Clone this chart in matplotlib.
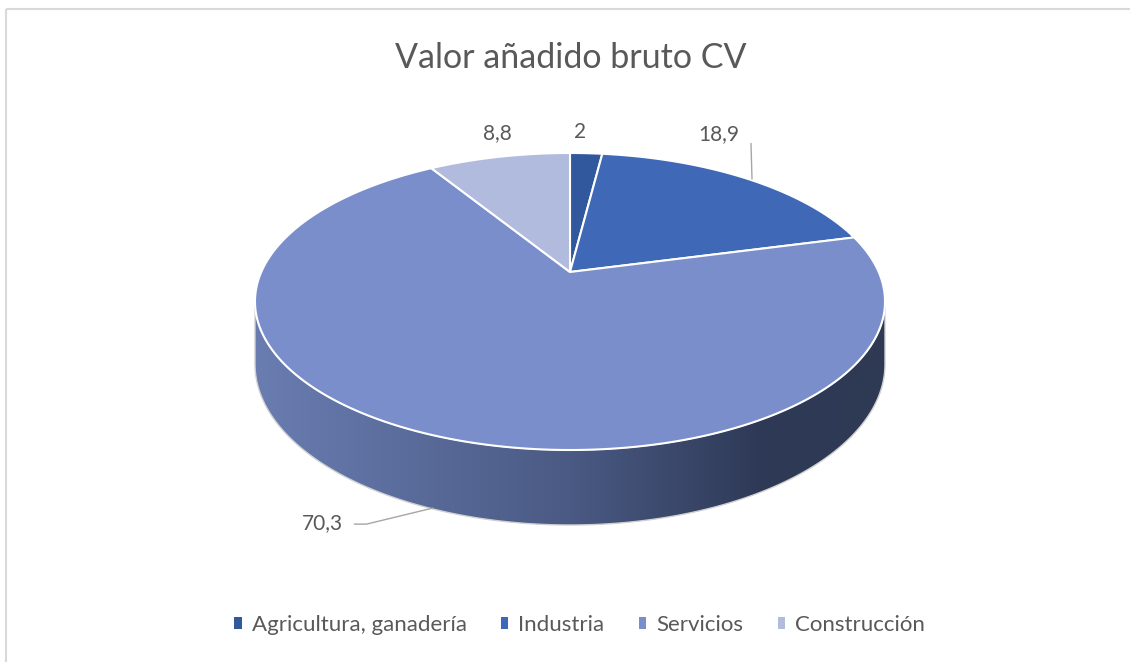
import numpy as np
import matplotlib
matplotlib.use("Agg")
import matplotlib.pyplot as plt
from matplotlib.patches import Polygon, Rectangle, Patch
from matplotlib.colors import LinearSegmentedColormap

plt.rcParams['font.family'] = ['Lato', 'DejaVu Sans']

# data
categories = ["Agricultura, ganadería", "Industria", "Servicios", "Construcción"]
values = [2, 18.9, 70.3, 8.8]
value_labels = ["2", "18,9", "70,3", "8,8"]
colors = ["#31579c", "#3f68b6", "#798eca", "#b0bbdd"]
title = "Valor añadido bruto CV"

TEXT = "#595959"
W, H = 1130, 662

# pie geometry (pixels) - excel style 3d pie with perspective
CX = 570
Y_BACK, Y_APEX, Y_FRONT = 153, 272, 450
HALF_W = 315
DEPTH = 75

q = Y_APEX
r = (2 * q - Y_BACK - Y_FRONT) / (Y_FRONT - Y_BACK)
p = Y_FRONT * (1 + r) - q
A = HALF_W * np.sqrt(1 - r ** 2)


def proj(t):
    # t: degrees clockwise from 12 o'clock
    t = np.radians(np.asarray(t, dtype=float))
    u, v = np.sin(t), -np.cos(t)
    w = 1 + r * v
    return CX + A * u / w, (q + p * v) / w, DEPTH * (1 + r) / w


fig = plt.figure(figsize=(W / 100, H / 100), dpi=100)
ax = fig.add_axes([0, 0, 1, 1])
ax.axis('off')

# chart border
ax.add_patch(Rectangle((5.5, 8.5), W, H, fill=False, edgecolor='#d9d9d9', lw=1.5))

# side of the pie (only front part visible)
t_sil = np.degrees(np.arccos(r))
ts = np.linspace(t_sil, 360 - t_sil, 300)
xs, ys, ds = proj(ts)
side_pts = np.concatenate([np.column_stack([xs, ys]),
                           np.column_stack([xs[::-1], (ys + ds)[::-1]])])
side = Polygon(side_pts, closed=True, facecolor='none', edgecolor='#d0d0d0', lw=1)
ax.add_patch(side)
side_cmap = LinearSegmentedColormap.from_list(
    "side", [(0, "#6a7db1"), (0.5, "#4a5a84"), (0.8, "#2f3a57"), (1, "#2e3954")])
grad = np.linspace(0, 1, 256).reshape(1, -1)
img = ax.imshow(grad, cmap=side_cmap, aspect='auto',
                extent=(xs.min(), xs.max(), (ys + ds).max(), ys.min()))
img.set_clip_path(side)

# top face
bounds = np.concatenate([[0], np.cumsum(values)]) / sum(values) * 360
for i, c in enumerate(colors):
    tt = np.linspace(bounds[i], bounds[i + 1], max(int(bounds[i + 1] - bounds[i]) * 2, 4))
    ax_, ay_, _ = proj(tt)
    pts = np.vstack([[CX, Y_APEX], np.column_stack([ax_, ay_])])
    ax.add_patch(Polygon(pts, closed=True, facecolor=c, edgecolor='white', lw=1.5,
                         joinstyle='miter'))

# data labels
label_offsets = [(-6, -21), (-28, -45), (-107, 15), (-2, -24)]
on_side = [False, False, True, False]
for i, lab in enumerate(value_labels):
    mid = (bounds[i] + bounds[i + 1]) / 2
    x0, y0, d0 = proj(mid)
    if on_side[i]:
        y0 = y0 + d0
    lx, ly = x0 + label_offsets[i][0], y0 + label_offsets[i][1]
    ax.text(lx, ly, lab, ha='center', va='center', fontsize=15, color=TEXT)
    if i == 1:
        ax.plot([lx + 32, x0 + 5], [ly + 10, y0], color='#a6a6a6', lw=1)
    if i == 2:
        ax.plot([lx + 32, lx + 44, x0 + 3], [ly + 1, ly + 1, y0], color='#a6a6a6', lw=1)

ax.text(CX + 1, 58, title, ha='center', va='center', fontsize=24.5, color=TEXT)

handles = [Patch(facecolor=c, edgecolor='none') for c in colors]
ax.legend(handles, categories, loc='center', bbox_to_anchor=(0.513, 0.056),
          bbox_transform=fig.transFigure, ncol=4, frameon=False,
          handlelength=0.33, handleheight=0.5, handletextpad=0.45,
          columnspacing=1.55, fontsize=16, labelcolor=TEXT)

ax.set_xlim(0, W)
ax.set_ylim(H, 0)
fig.savefig("out.png", dpi=100, facecolor='white')
